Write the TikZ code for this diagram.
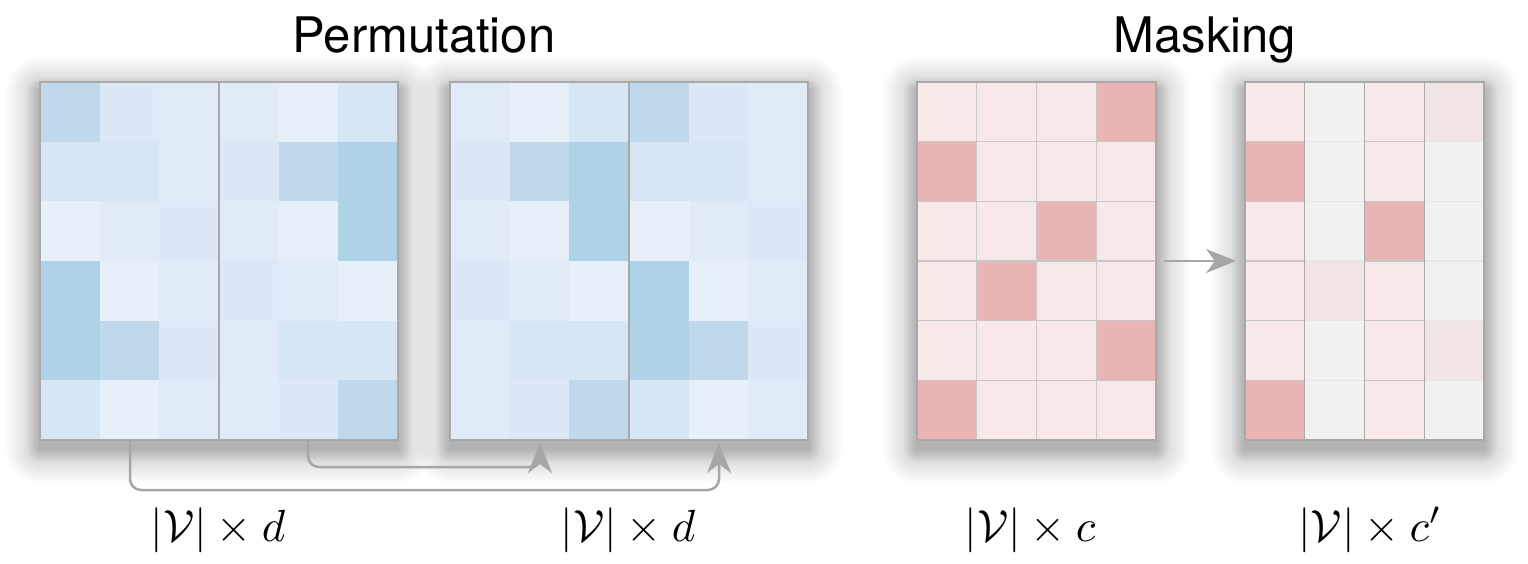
\documentclass[tikz,border=0pt]{standalone}
\usepackage{fontspec}
\newfontfamily\heros{TeX Gyre Heros}
\usetikzlibrary{arrows.meta}
\definecolor{bl1}{HTML}{AFD3E6}
\definecolor{bl2}{HTML}{BFD8EB}
\definecolor{bl3}{HTML}{D7E6F5}
\definecolor{bl4}{HTML}{DCE8F5}
\definecolor{bl5}{HTML}{E0EBF7}
\definecolor{bl6}{HTML}{E7EFF9}
\definecolor{cp}{HTML}{F8E8E8}
\definecolor{cd}{HTML}{E8B4B4}
\definecolor{cg}{HTML}{F2F1F0}
\definecolor{cm}{HTML}{F1E5E4}
\definecolor{bdp}{HTML}{C8C8C8}
\definecolor{bdd}{HTML}{C8C8C8}
\definecolor{bdg}{HTML}{E6E6E6}
\definecolor{bdm}{HTML}{E6E6E6}
\definecolor{frame}{HTML}{A9A9A9}
\definecolor{conngray}{HTML}{A6A6A6}
\newcommand\bluecells[2]{%
  \foreach \v [count=\i from 0] in {#2}{%
    \pgfmathtruncatemacro\rr{\i/6}%
    \pgfmathtruncatemacro\cc{\i-6*\rr}%
    \fill[fill=bl\v] ({#1+\cc*59.667},{82+\rr*59.667}) rectangle ++(60.2,60.2);
  }}
\newcommand\pinkcells[2]{%
  \foreach \v [count=\i from 0] in {#2}{%
    \pgfmathtruncatemacro\rr{\i/4}%
    \pgfmathtruncatemacro\cc{\i-4*\rr}%
    \filldraw[fill=c\v, draw=bd\v, line width=1.2pt] ({#1+\cc*59.75},{82+\rr*59.667}) rectangle ++(59.75,59.667);
  }}
\newcommand\softshadow[1]{%
  \foreach \s in {2,4,...,34}{%
    \fill[black, opacity=0.011, rounded corners=\s pt]
      ([shift={(-\s,{-\s+9})}]#1.north west) rectangle ([shift={(\s,{\s+9})}]#1.south east);
  }%
  \foreach \s in {1,3,...,13}{%
    \fill[black, opacity=0.016, rounded corners=\s pt]
      ([shift={(-\s,{-\s+9})}]#1.north west) rectangle ([shift={(\s,{\s+9})}]#1.south east);
  }}
\begin{document}
\begin{tikzpicture}[x=1pt,y=-1pt,
  matbox/.style={anchor=north west, minimum height=358pt, inner sep=0pt, outer sep=0pt},
  border/.style={draw=frame, line width=1.6pt},
  divider/.style={draw=frame, line width=1.5pt},
  conn/.style={draw=conngray, line width=2.5pt, rounded corners=11pt,
    -{Stealth[length=30pt,width=24pt,inset=9pt]}},
  ttl/.style={anchor=base, font=\heros\fontsize{49}{58}\selectfont},
  lbl/.style={anchor=base, scale=4.5}]
\useasboundingbox (0,0) rectangle (1528,564);
\fill[white] (0,0) rectangle (1528,564);

% titles
\node[ttl] (t1) at (424,53) {Permutation};
\node[ttl] (t2) at (1205,53) {Masking};

% matrix frames
\node[matbox, minimum width=358pt] (m1) at (40,82) {};
\node[matbox, minimum width=358pt] (m2) at (450,82) {};
\node[matbox, minimum width=239pt] (m3) at (917,82) {};
\node[matbox, minimum width=239pt] (m4) at (1245,82) {};

% shadows
\softshadow{m1}
\softshadow{m2}
\softshadow{m3}
\softshadow{m4}

% matrix 1
\bluecells{40}{2,4,5,5,6,3, 3,3,5,4,2,1, 6,5,4,5,6,1, 1,6,5,4,5,6, 1,2,4,5,3,3, 3,6,5,5,4,2}
\draw[divider] (m1.north) -- (m1.south);
\draw[border] (m1.north west) rectangle (m1.south east);

% matrix 2
\bluecells{450}{5,6,3,2,4,5, 4,2,1,3,3,5, 5,6,1,6,5,4, 4,5,6,1,6,5, 5,3,3,1,2,4, 5,4,2,3,6,5}
\draw[divider] (m2.north) -- (m2.south);
\draw[border] (m2.north west) rectangle (m2.south east);

% matrix 3
\pinkcells{917}{p,p,p,d, d,p,p,p, p,p,d,p, p,d,p,p, p,p,p,d, d,p,p,p}
\draw[border] (m3.north west) rectangle (m3.south east);

% matrix 4
\pinkcells{1245}{p,g,p,m, d,g,p,g, p,g,d,g, p,m,p,g, p,g,p,m, d,g,p,g}
\foreach \k in {1,2,3}{\draw[draw=bdp!85!black, line width=1.3pt] ({1245+\k*59.75},82) -- ({1245+\k*59.75},440);}
\draw[border] (m4.north west) rectangle (m4.south east);

% permutation connectors
\coordinate (s1) at ([xshift=-89pt]m1.south);
\coordinate (s2) at ([xshift=89pt]m1.south);
\coordinate (e1) at ([xshift=-89pt,yshift=-3pt]m2.south);
\coordinate (e2) at ([xshift=90pt,yshift=-3pt]m2.south);
\draw[conn] (s2) -- ++(0,27) -| (e1);
\draw[conn] (s1) -- ++(0,50) -| (e2);

% masking arrow
\draw[conn] ([xshift=8pt]m3.east) -- ([xshift=-9pt]m4.west);

% labels
\node[lbl] (l1) at (218,541) {$|\mathcal{V}| \times d$};
\node[lbl] (l2) at (628,541) {$|\mathcal{V}| \times d$};
\node[lbl] (l3) at (1030,541) {$|\mathcal{V}| \times c$};
\node[lbl] (l4) at (1370,541) {$|\mathcal{V}| \times c'$};
\end{tikzpicture}
\end{document}
